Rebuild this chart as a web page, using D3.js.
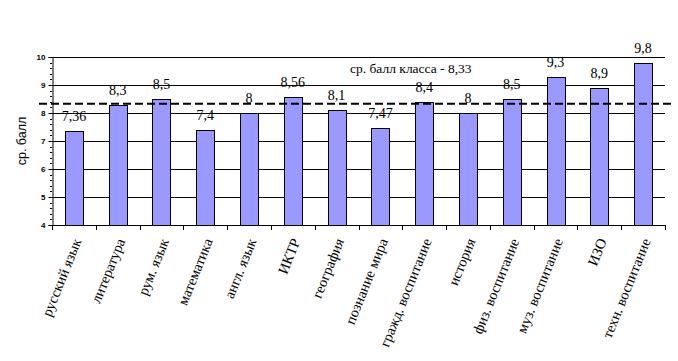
<!DOCTYPE html>
<html><head><meta charset="utf-8">
<script src="https://cdn.jsdelivr.net/npm/d3@7"></script>
<style>body{margin:0;background:#fff}</style>
</head><body>
<svg id="c" width="678" height="361"></svg>
<script>
const categories = ["русский язык","литература","рум. язык","математика","англ. язык","ИКТР","география","познание мира","гражд. воспитание","история","физ. воспитание","муз. воспитание","ИЗО","техн. воспитание"];
const values = [7.36,8.3,8.5,7.4,8,8.56,8.1,7.47,8.4,8,8.5,9.3,8.9,9.8];
const valueLabels = ["7,36","8,3","8,5","7,4","8","8,56","8,1","7,47","8,4","8","8,5","9,3","8,9","9,8"];
const yTicks = [4,5,6,7,8,9,10];
const classAvg = 8.33;
const classAvgLabel = "ср. балл класса - 8,33";
const yTitle = "ср. балл";

const serif = "'Liberation Serif', 'DejaVu Serif', serif";
const sans = "'Liberation Sans', Arial, sans-serif";
const svg = d3.select("#c");
const L = 52, R = 665, T = 57, B = 225;
const x = d3.scaleBand().domain(categories).range([L, R]).paddingInner(0.59).paddingOuter(0.295);
const xb = d3.scaleBand().domain(categories).range([L, R]);
const y = d3.scaleLinear().domain([4, 10]).range([B, T]);

// gridlines
svg.append("g").selectAll("line").data(yTicks.slice(1)).join("line")
  .attr("x1", L).attr("x2", R).attr("y1", d => Math.round(y(d))+0.5).attr("y2", d => Math.round(y(d))+0.5)
  .attr("stroke", "#000").attr("stroke-width", 1);

// bars
svg.append("g").selectAll("rect").data(values).join("rect")
  .attr("x", (d,i) => Math.round(x(categories[i]))+0.5)
  .attr("y", d => Math.round(y(d))+0.5)
  .attr("width", Math.round(x.bandwidth()))
  .attr("height", d => B - Math.round(y(d)))
  .attr("fill", "#9999FF").attr("stroke", "#000").attr("stroke-width", 1);

// y axis
const yAxis = d3.axisLeft(y).tickValues(yTicks).tickSize(4).tickFormat(d3.format("d"));
const ya = svg.append("g").attr("transform", `translate(${L+0.5},0)`).call(yAxis);
ya.select(".domain").attr("stroke","#000");
ya.selectAll("text").attr("font-family",sans).attr("font-size", 8).attr("font-weight","bold").attr("fill","#000");
// minor ticks
const minor = d3.range(4, 10.001, 0.2);
svg.append("g").selectAll("line").data(minor).join("line")
  .attr("x1", L-2).attr("x2", L).attr("y1", d => Math.round(y(d))+0.5).attr("y2", d => Math.round(y(d))+0.5)
  .attr("stroke","#000");

// x axis
const xa = svg.append("g").attr("transform", `translate(0,${B})`);
xa.append("line").attr("x1", L).attr("x2", R+1).attr("y1", 0.5).attr("y2", 0.5).attr("stroke","#000");
const bounds = categories.map(c => xb(c)).concat([R]);
xa.selectAll("line.t").data(bounds).join("line").attr("class","t")
  .attr("x1", d => Math.round(d)+0.5).attr("x2", d => Math.round(d)+0.5).attr("y1", 0).attr("y2", 5).attr("stroke","#000");
xa.selectAll("text").data(categories).join("text")
  .attr("transform", d => `translate(${xb(d)+xb.bandwidth()/2+3},${14}) rotate(-68)`)
  .attr("text-anchor","end").attr("dy","0.35em")
  .attr("font-family",serif).attr("font-size", 14.5)
  .attr("fill","#000").text(d => d);

// value labels
svg.append("g").selectAll("text").data(values).join("text")
  .attr("x", (d,i) => xb(categories[i]) + xb.bandwidth()/2)
  .attr("y", d => y(d) - 10)
  .attr("text-anchor","middle")
  .attr("font-family",serif).attr("font-size", 14)
  .attr("fill","#000").text((d,i) => valueLabels[i]);

// average dashed line
svg.append("line").attr("x1", 39).attr("x2", 671).attr("y1", y(classAvg)).attr("y2", y(classAvg))
  .attr("stroke","#000").attr("stroke-width", 2).attr("stroke-dasharray","8,4");
svg.append("text").attr("x", 350).attr("y", 73)
  .attr("font-family",serif).attr("font-size", 13.5)
  .attr("fill","#000").text(classAvgLabel);

// y title
svg.append("text").attr("transform", `translate(26,${(T+B)/2}) rotate(-90)`)
  .attr("text-anchor","middle")
  .attr("font-family",sans).attr("font-size", 12.5)
  .attr("fill","#000").text(yTitle);
</script>
</body></html>
